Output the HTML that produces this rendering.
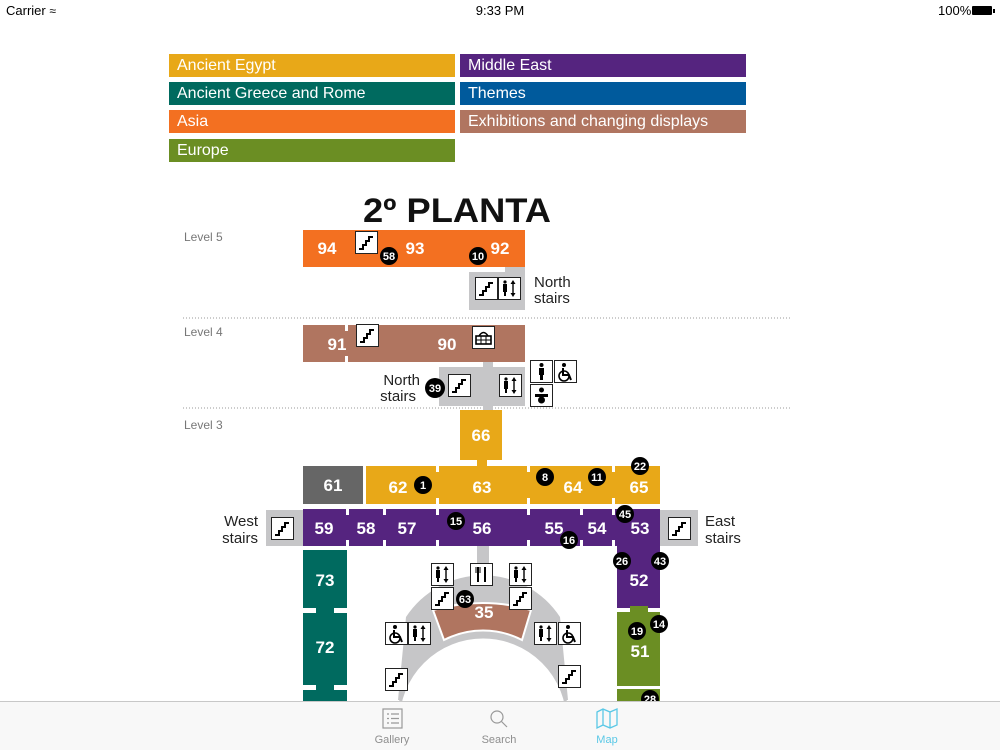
<!DOCTYPE html>
<html><head><meta charset="utf-8">
<style>
html,body{margin:0;padding:0;width:1000px;height:750px;overflow:hidden;background:#fff;font-family:"Liberation Sans",sans-serif}
.st{position:absolute;top:3px;font-size:13px;color:#000;line-height:15px}
.lg{position:absolute;width:286px;height:23px;color:#fff;font-size:16px;line-height:23px;padding-left:8px;box-sizing:border-box;overflow:hidden}
.tab{position:absolute;top:734px;font-size:11px;line-height:13px;color:#8e8e8e;width:80px;text-align:center}
</style></head><body>
<div class="st" style="left:6px">Carrier <span style="font-size:12px">&#8776;</span></div>
<div class="st" style="left:400px;width:200px;text-align:center">9:33 PM</div>
<div class="st" style="left:938px">100%</div>
<div style="position:absolute;left:972px;top:6px;width:20px;height:9px;background:#000;border-radius:1px"></div>
<div style="position:absolute;left:993px;top:9px;width:2px;height:4px;background:#000"></div>

<div class="lg" style="left:169px;top:54px;background:#e8a818">Ancient Egypt</div>
<div class="lg" style="left:460px;top:54px;background:#55247f">Middle East</div>
<div class="lg" style="left:169px;top:82px;background:#006a5f">Ancient Greece and Rome</div>
<div class="lg" style="left:460px;top:82px;background:#005a9c">Themes</div>
<div class="lg" style="left:169px;top:110px;background:#f37021">Asia</div>
<div class="lg" style="left:460px;top:110px;background:#b07560">Exhibitions and changing displays</div>
<div class="lg" style="left:169px;top:139px;background:#6b8e23">Europe</div>

<svg width="1000" height="750" style="position:absolute;left:0;top:0" font-family="Liberation Sans, sans-serif">
<defs>
<g id="stair"><rect x="0.5" y="0.5" width="22" height="22" fill="#fff" stroke="#222"/><polyline points="4,18 8,18 8,14 11,14 11,10 14,10 14,6 18,6" fill="none" stroke="#000" stroke-width="2"/></g>
<g id="lift"><rect x="0.5" y="0.5" width="22" height="22" fill="#fff" stroke="#222"/><circle cx="7" cy="5" r="1.6"/><rect x="5" y="7" width="4" height="8"/><rect x="6" y="14" width="2" height="5"/><path d="M15 3 L12.5 7 L17.5 7 Z M15 20 L12.5 16 L17.5 16 Z"/><rect x="14.3" y="6" width="1.4" height="11"/></g>
<g id="wc"><rect x="0.5" y="0.5" width="22" height="22" fill="#fff" stroke="#222"/><circle cx="10" cy="5" r="2"/><path d="M9 8 v7 h6 l2 5" fill="none" stroke="#000" stroke-width="2"/><circle cx="10" cy="16" r="5" fill="none" stroke="#000" stroke-width="1.6"/></g>
<g id="man"><rect x="0.5" y="0.5" width="22" height="22" fill="#fff" stroke="#222"/><circle cx="11.5" cy="5" r="2"/><path d="M9 8 h5 v7 h-1 v5 h-3 v-5 h-1 Z"/></g>
<g id="baby"><rect x="0.5" y="0.5" width="22" height="22" fill="#fff" stroke="#222"/><circle cx="11.5" cy="6" r="2.5"/><rect x="5" y="10" width="13" height="3"/><circle cx="11.5" cy="16" r="3.5"/></g>
<g id="fork"><rect x="0.5" y="0.5" width="22" height="22" fill="#fff" stroke="#222"/><rect x="7" y="4" width="2" height="15"/><rect x="14" y="4" width="2" height="15"/><rect x="5.5" y="4" width="1" height="6"/><rect x="9.5" y="4" width="1" height="6"/></g>
<g id="basket"><rect x="0.5" y="0.5" width="22" height="22" fill="#fff" stroke="#222"/><path d="M7 10 Q11.5 3 16 10" fill="none" stroke="#000" stroke-width="1.5"/><rect x="4" y="10" width="15" height="8" fill="none" stroke="#000" stroke-width="1.6"/><path d="M4 14 h15 M9 10 v8 M14 10 v8" stroke="#000"/></g>
</defs>

<text x="457" y="222" text-anchor="middle" font-size="34" font-weight="bold" fill="#111" textLength="188" lengthAdjust="spacingAndGlyphs">2º PLANTA</text>
<g font-size="12" fill="#777"><text x="184" y="241">Level 5</text><text x="184" y="336">Level 4</text><text x="184" y="429">Level 3</text></g>
<line x1="183" y1="318" x2="790" y2="318" stroke="#999" stroke-dasharray="1,2"/>
<line x1="183" y1="408" x2="790" y2="408" stroke="#999" stroke-dasharray="1,2"/>

<!-- level 5 -->
<rect x="303" y="230" width="222" height="37" fill="#f37021"/>
<path d="M469 272 H505 V267 H525 V310 H469 Z" fill="#c6c6c8"/>
<use href="#stair" x="355" y="231"/>
<use href="#stair" x="475" y="277"/><use href="#lift" x="498" y="277"/>
<g font-size="17" font-weight="bold" fill="#fff" text-anchor="middle"><text x="327" y="254">94</text><text x="415" y="254">93</text><text x="500" y="254">92</text></g>
<g font-size="15" fill="#222"><text x="534" y="287">North</text><text x="534" y="303">stairs</text></g>

<!-- level 4 -->
<rect x="303" y="325" width="222" height="37" fill="#b07560"/>
<rect x="345" y="325" width="3" height="6" fill="#fff"/><rect x="345" y="356" width="3" height="6" fill="#fff"/>
<rect x="483" y="362" width="10" height="6" fill="#c6c6c8"/>
<rect x="439" y="367" width="86" height="39" fill="#c6c6c8"/>
<rect x="483" y="406" width="10" height="4" fill="#c6c6c8"/>
<use href="#stair" x="356" y="324"/><use href="#basket" x="472" y="326"/>
<use href="#stair" x="448" y="374"/><use href="#lift" x="499" y="374"/>
<use href="#man" x="530" y="360"/><use href="#wc" x="554" y="360"/><use href="#baby" x="530" y="384"/>
<g font-size="17" font-weight="bold" fill="#fff" text-anchor="middle"><text x="337" y="350">91</text><text x="447" y="350">90</text></g>
<g font-size="15" fill="#222" text-anchor="end"><text x="420" y="385">North</text><text x="416" y="401">stairs</text></g>

<!-- level 3 -->
<rect x="460" y="410" width="42" height="50" fill="#e8a818"/>
<rect x="477" y="460" width="10" height="6" fill="#e8a818"/>
<rect x="303" y="466" width="60" height="38" fill="#666"/>
<rect x="366" y="466" width="294" height="38" fill="#e8a818"/>
<g fill="#fff"><rect x="436" y="466" width="3" height="6"/><rect x="436" y="498" width="3" height="6"/><rect x="527" y="466" width="3" height="6"/><rect x="527" y="498" width="3" height="6"/><rect x="612" y="466" width="3" height="6"/><rect x="612" y="498" width="3" height="6"/></g>
<rect x="266" y="510" width="37" height="36" fill="#c6c6c8"/>
<rect x="660" y="510" width="38" height="36" fill="#c6c6c8"/>
<rect x="303" y="509" width="357" height="37" fill="#55247f"/>
<g fill="#fff"><rect x="346" y="509" width="3" height="6"/><rect x="346" y="540" width="3" height="6"/><rect x="383" y="509" width="3" height="6"/><rect x="383" y="540" width="3" height="6"/><rect x="436" y="509" width="3" height="6"/><rect x="436" y="540" width="3" height="6"/><rect x="527" y="509" width="3" height="6"/><rect x="527" y="540" width="3" height="6"/><rect x="580" y="509" width="3" height="6"/><rect x="580" y="540" width="3" height="6"/><rect x="612" y="509" width="3" height="6"/><rect x="612" y="540" width="3" height="6"/></g>
<rect x="617" y="546" width="43" height="62" fill="#55247f"/>
<rect x="617" y="612" width="43" height="89" fill="#6b8e23"/>
<rect x="303" y="550" width="44" height="58" fill="#006a5f"/>
<rect x="303" y="613" width="44" height="72" fill="#006a5f"/>
<rect x="303" y="690" width="44" height="11" fill="#006a5f"/>
<rect x="316" y="606" width="18" height="9" fill="#006a5f"/><rect x="316" y="683" width="18" height="9" fill="#006a5f"/>
<rect x="630" y="606" width="18" height="8" fill="#6b8e23"/><rect x="630" y="682" width="18" height="8" fill="#6b8e23"/>
<rect x="617" y="686" width="43" height="3" fill="#fff"/>
<use href="#stair" x="271" y="517"/><use href="#stair" x="668" y="517"/>
<g font-size="15" fill="#222"><text x="258" y="526" text-anchor="end">West</text><text x="258" y="543" text-anchor="end">stairs</text><text x="705" y="526">East</text><text x="705" y="543">stairs</text></g>

<!-- rotunda -->
<rect x="477" y="546" width="12" height="30" fill="#c6c6c8"/>
<path d="M398 700 L406 617 A92 92 0 0 1 560 617 L568 700 Z" fill="#c6c6c8"/>
<circle cx="483" cy="722" r="85" fill="#fff"/>
<circle cx="483" cy="722" r="85" fill="none" stroke="#c6c6c8" stroke-width="3"/>
<path d="M433 610 Q483 596 531 610 L522 640 A85 85 0 0 0 444 640 Z" fill="#b07560" stroke="#fff" stroke-width="2"/>
<use href="#lift" x="431" y="563"/><use href="#stair" x="431" y="587"/>
<use href="#fork" x="470" y="563"/>
<use href="#lift" x="509" y="563"/><use href="#stair" x="509" y="587"/>
<use href="#wc" x="385" y="622"/><use href="#lift" x="408" y="622"/>
<use href="#lift" x="534" y="622"/><use href="#wc" x="558" y="622"/>
<use href="#stair" x="385" y="668"/><use href="#stair" x="558" y="665"/>

<g font-size="17" font-weight="bold" fill="#fff" text-anchor="middle">
<text x="333" y="491">61</text><text x="398" y="493">62</text><text x="482" y="493">63</text><text x="573" y="493">64</text><text x="639" y="493">65</text><text x="481" y="441">66</text>
<text x="324" y="534">59</text><text x="366" y="534">58</text><text x="407" y="534">57</text><text x="482" y="534">56</text><text x="554" y="534">55</text><text x="597" y="534">54</text><text x="640" y="534">53</text>
<text x="639" y="586">52</text><text x="640" y="657">51</text><text x="325" y="586">73</text><text x="325" y="653">72</text><text x="484" y="618">35</text>
</g>
<g font-size="11" font-weight="bold" fill="#fff" text-anchor="middle">
<circle cx="389" cy="256" r="9" fill="#000"/><text x="389" y="260">58</text>
<circle cx="478" cy="256" r="9" fill="#000"/><text x="478" y="260">10</text>
<circle cx="435" cy="388" r="10" fill="#000"/><text x="435" y="392">39</text>
<circle cx="423" cy="485" r="9" fill="#000"/><text x="423" y="489">1</text>
<circle cx="545" cy="477" r="9" fill="#000"/><text x="545" y="481">8</text>
<circle cx="597" cy="477" r="9" fill="#000"/><text x="597" y="481">11</text>
<circle cx="640" cy="466" r="9" fill="#000"/><text x="640" y="470">22</text>
<circle cx="625" cy="514" r="9" fill="#000"/><text x="625" y="518">45</text>
<circle cx="456" cy="521" r="9" fill="#000"/><text x="456" y="525">15</text>
<circle cx="569" cy="540" r="9" fill="#000"/><text x="569" y="544">16</text>
<circle cx="622" cy="561" r="9" fill="#000"/><text x="622" y="565">26</text>
<circle cx="660" cy="561" r="9" fill="#000"/><text x="660" y="565">43</text>
<circle cx="465" cy="599" r="9" fill="#000"/><text x="465" y="603">63</text>
<circle cx="637" cy="631" r="9" fill="#000"/><text x="637" y="635">19</text>
<circle cx="659" cy="624" r="9" fill="#000"/><text x="659" y="628">14</text>
<circle cx="650" cy="699" r="9" fill="#000"/><text x="650" y="703">28</text>
</g>

<!-- tab bar -->
<rect x="0" y="701" width="1000" height="49" fill="#f8f8f8"/>
<line x1="0" y1="701.5" x2="1000" y2="701.5" stroke="#c8c8c8"/>
<g fill="none" stroke="#999" stroke-width="1.2">
<rect x="383" y="709" width="19" height="19"/><path d="M387 714 h2 M391 714 h8 M387 718.5 h2 M391 718.5 h8 M387 723 h2 M391 723 h8"/>
<circle cx="497" cy="717" r="6"/><line x1="501.5" y1="721.5" x2="507" y2="727"/>
</g>
<path d="M597 712 L603 709 L610 712 L617 709 V725 L610 728 L603 725 L597 728 Z M603 709 V725 M610 712 V728" fill="none" stroke="#5ac8e6" stroke-width="1.3"/>
</svg>
<div class="tab" style="left:352px">Gallery</div>
<div class="tab" style="left:459px">Search</div>
<div class="tab" style="left:567px;color:#5ac8e6">Map</div>
</body></html>
